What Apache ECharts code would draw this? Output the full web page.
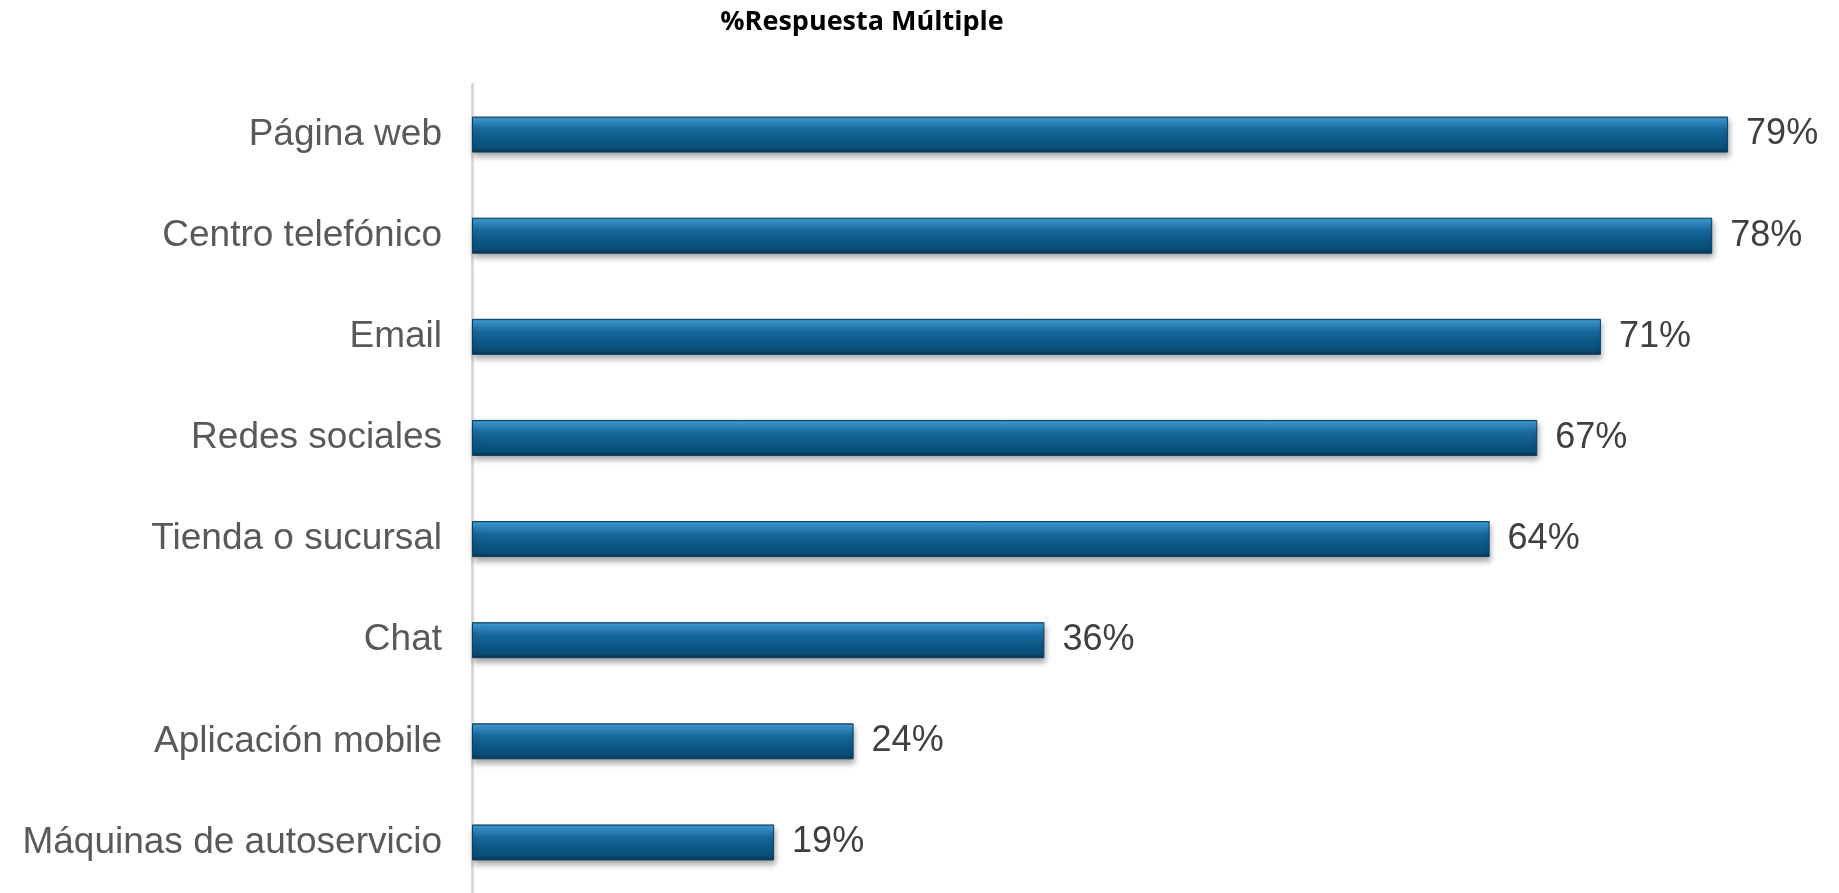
<!DOCTYPE html>
<html>
<head>
<meta charset="utf-8">
<title>%Respuesta Múltiple</title>
<script src="https://cdn.jsdelivr.net/npm/echarts@6/dist/echarts.min.js"></script>
<style>
  html, body { margin: 0; padding: 0; background: #ffffff; }
  #chart { width: 1839px; height: 893px; }
</style>
</head>
<body>
<div id="chart"></div>
<script>
// Contact channels and the share of respondents naming each one (multiple answer)
const categories = [
  'Página web',
  'Centro telefónico',
  'Email',
  'Redes sociales',
  'Tienda o sucursal',
  'Chat',
  'Aplicación mobile',
  'Máquinas de autoservicio'
];
const values = [79, 78, 71, 67, 64, 36, 24, 19];
const titleText = '%Respuesta Múltiple';

const chart = echarts.init(document.getElementById('chart'), null, { renderer: 'canvas' });

// Glossy blue fill with a light band near the top and a dark lower edge
const barFill = new echarts.graphic.LinearGradient(0, 0, 0, 1, [
  { offset: 0.00, color: '#1f5f8a' },
  { offset: 0.06, color: '#3b9ad2' },
  { offset: 0.18, color: '#2f86bd' },
  { offset: 0.35, color: '#17699c' },
  { offset: 0.65, color: '#0c5886' },
  { offset: 0.88, color: '#0a4d76' },
  { offset: 1.00, color: '#07334f' }
]);

chart.setOption({
  animation: false,
  title: {
    text: titleText,
    left: 857,
    top: 4,
    textAlign: 'center',
    textStyle: {
      fontFamily: 'Open Sans',
      fontWeight: 'bold',
      fontSize: 27,
      color: '#000000'
    }
  },
  grid: {
    left: 472,
    top: 84,
    width: 1272,
    height: 814,
    containLabel: false
  },
  xAxis: {
    type: 'value',
    min: 0,
    max: 80,
    show: false
  },
  yAxis: {
    type: 'category',
    data: categories,
    inverse: true,
    axisTick: { show: false },
    axisLine: { show: true, lineStyle: { color: '#d9d9d9', width: 3 } },
    axisLabel: {
      margin: 30,
      fontFamily: 'Liberation Sans',
      fontSize: 37,
      color: '#595959'
    },
    splitLine: { show: false }
  },
  series: [{
    type: 'bar',
    data: values,
    barWidth: 36,
    itemStyle: {
      color: barFill,
      borderColor: '#0c3e5e',
      borderWidth: 1,
      shadowColor: 'rgba(0,0,0,0.35)',
      shadowBlur: 6,
      shadowOffsetX: 1,
      shadowOffsetY: 4
    },
    label: {
      show: true,
      position: 'right',
      distance: 18,
      formatter: p => p.value + '%',
      fontFamily: 'Liberation Sans',
      fontSize: 36,
      color: '#404040'
    }
  }]
});
</script>
</body>
</html>
